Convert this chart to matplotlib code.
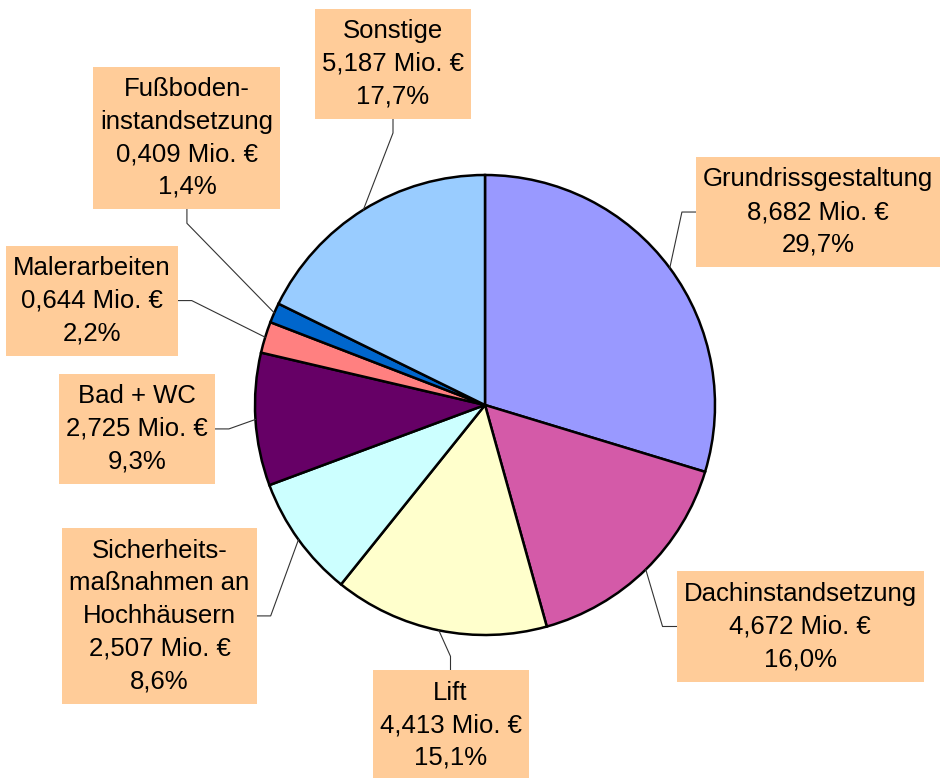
import numpy as np
import matplotlib.pyplot as plt
from matplotlib.patches import Rectangle

plt.rcParams['font.family'] = ['Liberation Sans', 'DejaVu Sans']

names = ['Grundrissgestaltung', 'Dachinstandsetzung', 'Lift',
         'Sicherheits-\nmaßnahmen an\nHochhäusern', 'Bad + WC', 'Malerarbeiten',
         'Fußboden-\ninstandsetzung', 'Sonstige']
values = [8.682, 4.672, 4.413, 2.507, 2.725, 0.644, 0.409, 5.187]
colors = ['#9999FF', '#D45AA8', '#FFFFCC', '#CCFFFF', '#660066', '#FF8080',
          '#0066CC', '#99CCFF']

# label box centres (data units, pie radius = 1) and side where the leader attaches
label_pos = [(1.448, 0.839), (1.370, -0.963), (-0.150, -1.393), (-1.415, -0.917),
             (-1.513, -0.104), (-1.709, 0.454), (-1.296, 1.161), (-0.400, 1.483)]
sides = ['left', 'left', 'top', 'right', 'right', 'right', 'bottom', 'bottom']

W, H = 941, 778
cx, cy, R = 485, 405, 230

fig = plt.figure(figsize=(W / 100, H / 100), dpi=100)
ax = fig.add_axes([0, 0, 1, 1])
ax.axis('off')

wedges, _ = ax.pie(values, colors=colors, startangle=90, counterclock=False, radius=1,
                   wedgeprops=dict(edgecolor='black', linewidth=1.8))
ax.set_aspect('equal')
ax.set_xlim(-cx / R, (W - cx) / R)
ax.set_ylim(-(H - cy) / R, cy / R)

total = sum(values)
texts = []
for name, v, (lx, ly) in zip(names, values, label_pos):
    pct = v / total * 100
    s = '%s\n%s Mio. €\n%s%%' % (name, ('%.3f' % v).replace('.', ','),
                                ('%.1f' % pct).replace('.', ','))
    t = ax.text(lx, ly, s, ha='center', va='center', fontsize=18.5, linespacing=1.45,
                zorder=5)
    texts.append(t)

fig.canvas.draw()
renderer = fig.canvas.get_renderer()
inv = ax.transData.inverted()
off = 14 / R
padx, pady = 7 / R, 10.5 / R
for w, t, side in zip(wedges, texts, sides):
    ang = np.deg2rad((w.theta1 + w.theta2) / 2)
    ax_, ay_ = np.cos(ang), np.sin(ang)
    bb = t.get_window_extent(renderer)
    (x0, y0), (x1, y1) = inv.transform([[bb.x0, bb.y0], [bb.x1, bb.y1]])
    x0, x1, y0, y1 = x0 - padx, x1 + padx, y0 - pady, y1 + pady
    ax.add_patch(Rectangle((x0, y0), x1 - x0, y1 - y0, facecolor='#FFCC99',
                           edgecolor='none', zorder=4))
    xm, ym = (x0 + x1) / 2, (y0 + y1) / 2
    if side == 'left':
        p, e = (x0, ym), (x0 - off, ym)
    elif side == 'right':
        p, e = (x1, ym), (x1 + off, ym)
    elif side == 'top':
        p, e = (xm, y1), (xm, y1 + off)
    else:
        p, e = (xm, y0), (xm, y0 - off)
    ax.plot([p[0], e[0], ax_], [p[1], e[1], ay_], color='#333333', lw=0.8, zorder=1)

fig.savefig('out.png', dpi=100)
